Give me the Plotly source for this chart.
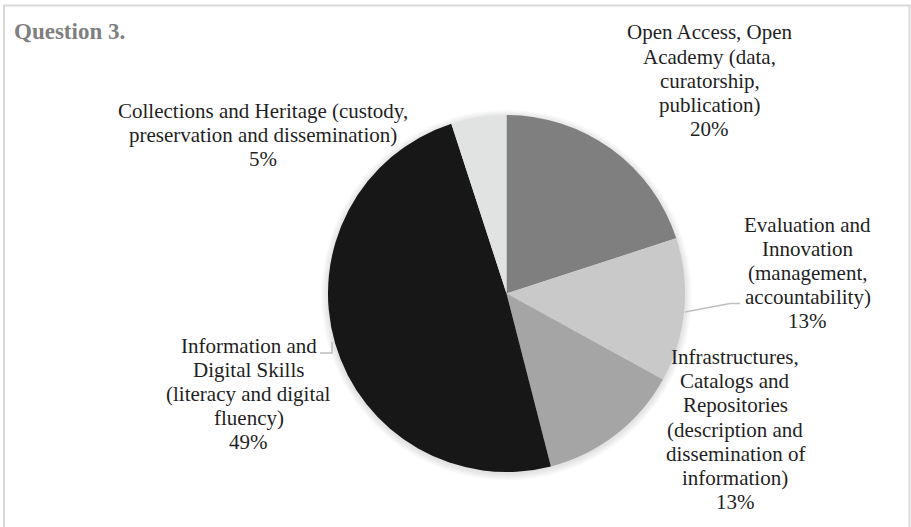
import plotly.graph_objects as go

W, H = 911, 527

# ---- data ----
categories = [
    "Open Access, Open Academy (data, curatorship, publication)",
    "Evaluation and Innovation (management, accountability)",
    "Infrastructures, Catalogs and Repositories (description and dissemination of information)",
    "Information and Digital Skills (literacy and digital fluency)",
    "Collections and Heritage (custody, preservation and dissemination)",
]
shares = [20, 13, 13, 49, 5]
label_lines = [
    ["Open Access, Open", "Academy (data,", "curatorship,", "publication)"],
    ["Evaluation and", "Innovation", "(management,", "accountability)"],
    ["Infrastructures,", "Catalogs and", "Repositories", "(description and", "dissemination of", "information)"],
    ["Information and", "Digital Skills", "(literacy and digital", "fluency)"],
    ["Collections and Heritage (custody,", "preservation and dissemination)"],
]
title_text = "Question 3."

# ---- style ----
colors = ["#7f7f7f", "#c9c9c9", "#a5a5a5", "#171717", "#e1e2e2"]
label_pos = [(709.5, 32.5), (807.5, 224.5), (735, 357), (248.5, 345.5), (262.5, 111)]
LINE = 24.2
FONT = "Liberation Serif, Times New Roman, serif"
FS = 21
cx, cy, r = 506.5, 293.5, 178.5


def px(x):
    return x / W


def py(y):
    return 1 - y / H


fig = go.Figure()
fig.add_trace(go.Pie(
    labels=categories,
    values=shares,
    sort=False,
    direction="clockwise",
    rotation=0,
    marker=dict(colors=colors, line=dict(width=0)),
    textinfo="none",
    hoverinfo="label+percent",
    showlegend=False,
    domain=dict(x=[px(cx - r), px(cx + r)], y=[py(cy + r), py(cy - r)]),
))

annotations = []
for lines, v, (lx, ly) in zip(label_lines, shares, label_pos):
    all_lines = lines + [f"{v}%"]
    for i, t in enumerate(all_lines):
        annotations.append(dict(
            x=px(lx), y=py(ly + i * LINE), xref="paper", yref="paper",
            text=t, showarrow=False, xanchor="center", yanchor="middle",
            font=dict(family=FONT, size=FS, color="#1f1f1f"),
        ))
annotations.append(dict(
    x=px(12), y=py(31), xref="paper", yref="paper", text=f"<b>{title_text}</b>",
    showarrow=False, xanchor="left", yanchor="middle",
    font=dict(family=FONT, size=23, color="#7f7f7f"),
))

shapes = []
# soft shadow around the pie
for k in range(1, 8):
    shapes.append(dict(
        type="circle", xref="paper", yref="paper", layer="below",
        x0=px(cx - r - k), x1=px(cx + r + k),
        y0=py(cy + 1.5 + r + k), y1=py(cy + 1.5 - r - k),
        fillcolor="rgba(0,0,0,0.014)", line=dict(width=0),
    ))


def path(pts):
    return "M " + " L ".join(f"{px(x):.5f},{py(y):.5f}" for x, y in pts)


# leader lines
shapes.append(dict(type="path", xref="paper", yref="paper",
                   path=path([(685, 312), (730, 303.5), (740, 303.5)]),
                   line=dict(color="#bfbfbf", width=1.5)))
shapes.append(dict(type="path", xref="paper", yref="paper",
                   path=path([(320, 353), (332, 353), (332, 342)]),
                   line=dict(color="#bfbfbf", width=1.5)))
# outer frame
shapes.append(dict(type="rect", xref="paper", yref="paper",
                   x0=px(4), x1=px(909.5), y0=py(528), y1=py(5.5),
                   line=dict(color="#d9d9d9", width=2)))

fig.update_layout(
    width=W, height=H,
    margin=dict(l=0, r=0, t=0, b=0),
    paper_bgcolor="white", plot_bgcolor="white",
    annotations=annotations, shapes=shapes,
)
fig.write_html("out.html")
